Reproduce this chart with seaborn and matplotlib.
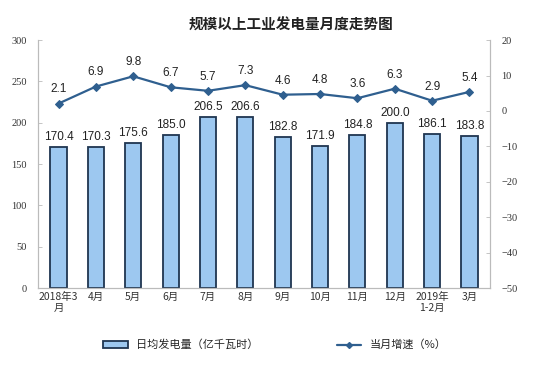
import matplotlib
matplotlib.use('Agg')
import matplotlib.pyplot as plt
import seaborn as sns
import pandas as pd
from matplotlib.patches import Patch
from matplotlib.lines import Line2D

# data
months = ['2018年3\n月', '4月', '5月', '6月', '7月', '8月', '9月',
          '10月', '11月', '12月', '2019年\n1-2月', '3月']
daily_output = [170.4, 170.3, 175.6, 185.0, 206.5, 206.6, 182.8,
                171.9, 184.8, 200.0, 186.1, 183.8]
growth = [2.1, 6.9, 9.8, 6.7, 5.7, 7.3, 4.6, 4.8, 3.6, 6.3, 2.9, 5.4]

sns.set_theme(style='white')
plt.rcParams['font.family'] = ['Noto Sans CJK SC', 'DejaVu Sans']

bar_color = '#9DC8F0'
edge_color = '#1F3550'
line_color = '#2F5F8F'
spine_color = '#BBBBBB'

df = pd.DataFrame({'Month': months, 'Output': daily_output, 'Growth': growth})
df['idx'] = range(len(df))

fig = plt.figure(figsize=(5.5, 3.79), dpi=100)
ax = fig.add_axes([0.069, 0.24, 0.822, 0.654])

sns.barplot(data=df, x='Month', y='Output', color=bar_color, edgecolor=edge_color,
            linewidth=1.3, width=0.43, saturation=1, ax=ax)
ax.set_ylim(0, 300)
ax.set_yticks(range(0, 301, 50))
ax.set_xlabel('')
ax.set_ylabel('')
for i, v in enumerate(daily_output):
    ax.text(i, v + 5, f'{v:.1f}', ha='center', va='bottom', fontsize=8.5,
            family='Liberation Sans', color='#222222')

ax2 = ax.twinx()
sns.lineplot(data=df, x='idx', y='Growth', color=line_color, marker='D',
             markersize=4, markeredgecolor=line_color, linewidth=1.6, ax=ax2)
ax2.set_ylim(-50, 20)
ax2.set_yticks(range(-50, 21, 10))
ax2.set_ylabel('')
ax2.set_xlabel('')
for i, v in enumerate(growth):
    ax2.text(i, v + 2.3, f'{v:.1f}', ha='center', va='bottom', fontsize=8.5,
             family='Liberation Sans', color='#222222')
ax.set_xlim(-0.55, len(months) - 0.45)

for a in (ax, ax2):
    a.spines['top'].set_visible(False)
    for s in ('left', 'right', 'bottom'):
        a.spines[s].set_color(spine_color)
        a.spines[s].set_linewidth(0.8)
    a.tick_params(axis='y', labelsize=7.5, labelcolor='#333333', color=spine_color,
                  length=3, width=0.6, direction='in', pad=8,
                  labelfontfamily='Liberation Serif')
ax.tick_params(axis='x', labelsize=7.5, colors='#333333', length=0, pad=3)
for lbl in ax.get_xticklabels():
    lbl.set_linespacing(1.1)

fig.suptitle('规模以上工业发电量月度走势图', x=0.53, y=0.955, fontsize=10.5,
             fontweight='bold', color='#222222')

handles = [Patch(facecolor=bar_color, edgecolor=edge_color, linewidth=1.3),
           Line2D([0], [0], color=line_color, marker='D', markersize=3, linewidth=1.6)]
fig.legend(handles, ['日均发电量（亿千瓦时）', '当月增速（%）'], loc='center',
           bbox_to_anchor=(0.5, 0.09), ncol=2, frameon=False, fontsize=8,
           columnspacing=7, handlelength=2.2, handleheight=0.6)

fig.savefig('out.png', dpi=100)
